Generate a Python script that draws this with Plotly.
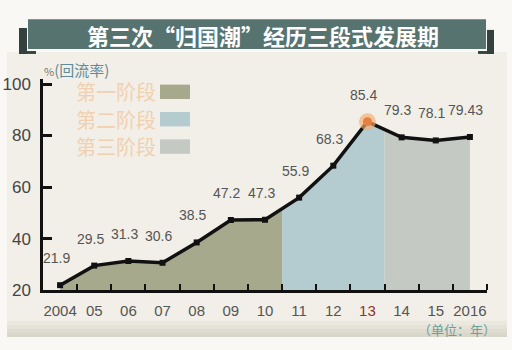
import numpy as np
import plotly.graph_objects as go

# ---- data ----
years = [2004, 2005, 2006, 2007, 2008, 2009, 2010, 2011, 2012, 2013, 2014, 2015, 2016]
year_labels = ["2004", "05", "06", "07", "08", "09", "10", "11", "12", "13", "14", "15", "2016"]
return_rate = [21.9, 29.5, 31.3, 30.6, 38.5, 47.2, 47.3, 55.9, 68.3, 85.4, 79.3, 78.1, 79.43]
value_labels = ["21.9", "29.5", "31.3", "30.6", "38.5", "47.2", "47.3", "55.9", "68.3", "85.4", "79.3", "78.1", "79.43"]
stage_names = ["第一阶段", "第二阶段", "第三阶段"]
stage_bounds = [(2004, 2010.5), (2010.5, 2013.5), (2013.5, 2016)]
stage_colors = ["#a6a98c", "#b4cbd0", "#c4c9c3"]
y_ticks = [20, 40, 60, 80, 100]

W, H = 512, 350
NUM_FONT = "Liberation Sans, Arial, sans-serif"
CJK_FONT = "Noto Sans CJK SC, sans-serif"


def px(x):
    return x / W


def py(y):
    return 1 - y / H


fig = go.Figure()

# stage areas under the curve
yrs = np.array(years, dtype=float)
vals = np.array(return_rate, dtype=float)
for (x0, x1), col in zip(stage_bounds, stage_colors):
    inner = [y for y in years if x0 < y < x1]
    xs = [x0] + inner + [x1]
    ys = list(np.interp(xs, yrs, vals))
    fig.add_trace(go.Scatter(x=xs, y=ys, mode="lines", fill="tozeroy",
                             fillcolor=col, line=dict(width=0, color=col),
                             hoverinfo="skip", showlegend=False))

# main line
fig.add_trace(go.Scatter(x=years, y=return_rate, mode="lines+markers",
                         line=dict(color="#111111", width=3.5),
                         marker=dict(symbol="square", size=6, color="#111111"),
                         showlegend=False))

# highlighted peak
ipk = int(np.argmax(vals))
fig.add_trace(go.Scatter(x=[years[ipk]], y=[return_rate[ipk]], mode="markers",
                         marker=dict(size=17, color="rgba(244,170,110,0.65)", line=dict(width=0)),
                         showlegend=False))
fig.add_trace(go.Scatter(x=[years[ipk]], y=[return_rate[ipk]], mode="markers",
                         marker=dict(size=9, color="#e4813f", line=dict(width=0)),
                         showlegend=False))

# value labels
for x, v, t in zip(years, return_rate, value_labels):
    fig.add_annotation(x=x, y=v, text=t, showarrow=False, xshift=-4, yshift=27,
                       font=dict(family=NUM_FONT, size=14, color="#555555"))

shapes = []
# backgrounds
shapes.append(dict(type="rect", xref="paper", yref="paper", x0=px(7), x1=px(507), y0=py(345), y1=py(50),
                   fillcolor="#f2efe8", line=dict(width=0), layer="below"))
band = ["#ebe8df", "#e5e2d8", "#dfdcd1", "#d9d6ca"]
for i, c in enumerate(band):
    shapes.append(dict(type="rect", xref="paper", yref="paper", x0=px(7), x1=px(507),
                       y0=py(330 + 4 * i + 4 + (1 if i == 3 else 0)), y1=py(330 + 4 * i),
                       fillcolor=c, line=dict(width=0), layer="below"))

# title banner and brackets
shapes.append(dict(type="rect", xref="paper", yref="paper", x0=px(28), x1=px(486), y0=py(47), y1=py(16),
                   fillcolor="#577370", line=dict(width=0)))
for (a, b, c, d) in [(19, 27, 25, 52), (19, 36, 49, 52), (487, 494, 27, 52), (478, 494, 49, 52)]:
    shapes.append(dict(type="rect", xref="paper", yref="paper", x0=px(a), x1=px(b), y0=py(d), y1=py(c),
                       fillcolor="#34423f", line=dict(width=0)))

# legend swatches and names
for i, (name, col) in enumerate(zip(stage_names, stage_colors)):
    yc = 91.5 + 28.5 * i
    shapes.append(dict(type="rect", xref="paper", yref="paper", x0=px(160), x1=px(190),
                       y0=py(yc + 7.5), y1=py(yc - 7.5), fillcolor=col, line=dict(width=0)))
    fig.add_annotation(xref="paper", yref="paper", x=px(158), y=py(yc), xanchor="right", yanchor="middle",
                       text=name, showarrow=False,
                       font=dict(family=CJK_FONT, size=20, color="#f1d0b0"))

fig.add_annotation(xref="paper", yref="paper", x=px(263), y=py(32), xanchor="center", yanchor="middle",
                   text="<b>第三次“归国潮”经历三段式发展期</b>", showarrow=False,
                   font=dict(family=CJK_FONT, size=22, color="#ffffff"))

fig.add_annotation(xref="paper", yref="paper", x=px(42), y=py(68), xanchor="left", yanchor="middle",
                   text="<span style='font-size:11px;color:#777777'>%</span>(回流率)", showarrow=False,
                   font=dict(family=CJK_FONT, size=15, color="#5f8c98"))

fig.add_annotation(xref="paper", yref="paper", x=px(457), y=py(339), xanchor="center", yanchor="middle",
                   text="（单位：年）", showarrow=False, borderpad=0,
                   font=dict(family=CJK_FONT, size=13, color="#6aa09b"))

tick_text = [f"<span style='color:#8e3434'>{t}</span>" if t == "13" else t for t in year_labels]

fig.update_layout(
    width=W, height=H, margin=dict(l=0, r=0, t=0, b=0),
    paper_bgcolor="#f9f8f4", plot_bgcolor="rgba(0,0,0,0)",
    shapes=shapes, showlegend=False,
    xaxis=dict(domain=[px(43), px(487)], range=[2003.5, 2016.5],
               tickmode="array", tickvals=years, ticktext=tick_text, ticks="",
               ticklabelstandoff=5,
               tickfont=dict(family=NUM_FONT, size=15, color="#555555"),
               showline=True, linecolor="#111111", linewidth=2.5, showgrid=False, zeroline=False,
               minor=dict(tickmode="array", tickvals=list(np.arange(2004.5, 2017, 1.0)),
                          ticks="inside", ticklen=6, tickwidth=2, tickcolor="#111111", showgrid=False),
               anchor="y", fixedrange=True),
    yaxis=dict(domain=[py(298), py(78)], range=[20, 102],
               tickmode="array", tickvals=y_ticks, ticks="inside", ticklen=9, tickwidth=2.5,
               tickcolor="#111111", ticklabelstandoff=6,
               tickfont=dict(family=NUM_FONT, size=17, color="#444444"),
               showline=True, linecolor="#111111", linewidth=2.5, showgrid=False, zeroline=False,
               anchor="x", fixedrange=True),
)

fig.write_html("out.html")
